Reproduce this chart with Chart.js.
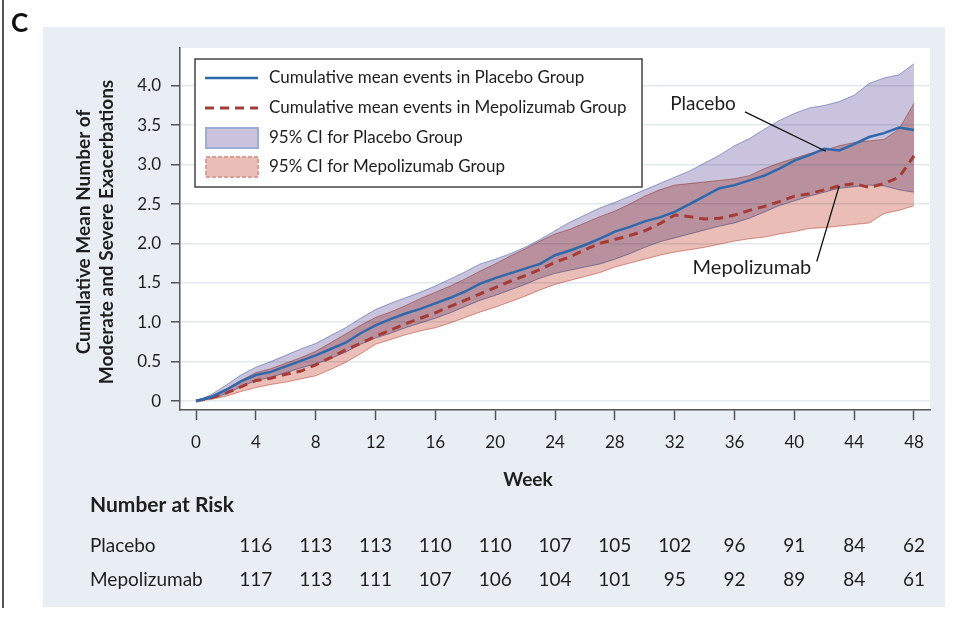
<!DOCTYPE html>
<html>
<head>
<meta charset="utf-8">
<script src="https://cdn.jsdelivr.net/npm/chart.js@4.4.1/dist/chart.umd.min.js"></script>
<style>
  html, body { margin: 0; padding: 0; background: #fff; }
  #wrap { width: 971px; height: 617px; }
</style>
</head>
<body>
<div id="wrap"><canvas id="chart" width="971" height="617"></canvas></div>
<script>
// Weeks since randomization
const weeks = [0, 1, 2, 3, 4, 5, 6, 7, 8, 9, 10, 11, 12, 13, 14, 15, 16, 17, 18, 19, 20, 21, 22, 23, 24,
  25, 26, 27, 28, 29, 30, 31, 32, 33, 34, 35, 36, 37, 38, 39, 40, 41, 42, 43, 44, 45, 46, 47, 48];

// Cumulative mean number of moderate/severe exacerbations
const placeboMean = [0, 0.05, 0.14, 0.25, 0.33, 0.37, 0.44, 0.51, 0.58, 0.66, 0.74, 0.86, 0.96, 1.04, 1.11, 1.17, 1.24,
  1.31, 1.39, 1.49, 1.56, 1.62, 1.68, 1.74, 1.85, 1.91, 1.98, 2.06, 2.15, 2.21, 2.28, 2.33, 2.40, 2.50, 2.60, 2.70,
  2.74, 2.80, 2.86, 2.95, 3.05, 3.12, 3.20, 3.18, 3.26, 3.35, 3.40, 3.47, 3.44];
const mepoMean = [0, 0.04, 0.10, 0.18, 0.26, 0.29, 0.34, 0.38, 0.46, 0.55, 0.65, 0.73, 0.82, 0.90, 0.98, 1.05, 1.12,
  1.20, 1.28, 1.36, 1.44, 1.52, 1.59, 1.67, 1.76, 1.83, 1.92, 2.00, 2.05, 2.10, 2.16, 2.25, 2.36, 2.34, 2.31, 2.32,
  2.36, 2.42, 2.47, 2.53, 2.60, 2.63, 2.68, 2.73, 2.76, 2.71, 2.76, 2.84, 3.11];

// 95% confidence bands
const placeboUpper = [0, 0.08, 0.20, 0.33, 0.43, 0.50, 0.58, 0.66, 0.73, 0.83, 0.93, 1.05, 1.16, 1.24, 1.31, 1.38, 1.46,
  1.55, 1.64, 1.74, 1.80, 1.87, 1.95, 2.05, 2.16, 2.27, 2.36, 2.45, 2.52, 2.60, 2.68, 2.76, 2.84, 2.92, 3.02, 3.12,
  3.24, 3.33, 3.45, 3.56, 3.65, 3.72, 3.75, 3.80, 3.88, 4.03, 4.10, 4.14, 4.28];
const placeboLower = [0, 0.03, 0.09, 0.18, 0.26, 0.30, 0.36, 0.42, 0.47, 0.54, 0.62, 0.72, 0.80, 0.86, 0.93, 0.99, 1.05,
  1.12, 1.20, 1.28, 1.34, 1.41, 1.48, 1.56, 1.62, 1.66, 1.70, 1.74, 1.80, 1.87, 1.95, 2.02, 2.07, 2.12, 2.17, 2.22,
  2.26, 2.32, 2.40, 2.48, 2.54, 2.60, 2.65, 2.70, 2.72, 2.74, 2.73, 2.68, 2.65];
const mepoUpper = [0, 0.06, 0.15, 0.26, 0.36, 0.41, 0.48, 0.55, 0.63, 0.74, 0.85, 0.96, 1.06, 1.13, 1.21, 1.30, 1.38,
  1.46, 1.55, 1.65, 1.74, 1.84, 1.93, 2.03, 2.12, 2.18, 2.26, 2.34, 2.41, 2.50, 2.60, 2.68, 2.74, 2.76, 2.78, 2.80,
  2.82, 2.86, 2.95, 3.02, 3.08, 3.14, 3.18, 3.24, 3.28, 3.30, 3.32, 3.45, 3.78];
const mepoLower = [0, 0.02, 0.06, 0.12, 0.17, 0.21, 0.24, 0.28, 0.32, 0.40, 0.49, 0.60, 0.72, 0.78, 0.84, 0.89, 0.93,
  0.99, 1.06, 1.13, 1.19, 1.26, 1.33, 1.41, 1.48, 1.53, 1.58, 1.63, 1.70, 1.75, 1.80, 1.85, 1.89, 1.92, 1.95, 1.99,
  2.03, 2.06, 2.08, 2.12, 2.15, 2.19, 2.20, 2.22, 2.24, 2.26, 2.38, 2.42, 2.48];

// Axis ticks
const xTicks = [0, 4, 8, 12, 16, 20, 24, 28, 32, 36, 40, 44, 48];
const yTicks = [0, 0.5, 1.0, 1.5, 2.0, 2.5, 3.0, 3.5, 4.0];

// Number at risk table
const riskWeeks = [4, 8, 12, 16, 20, 24, 28, 32, 36, 40, 44, 48];
const riskPlacebo = [116, 113, 113, 110, 110, 107, 105, 102, 96, 91, 84, 62];
const riskMepo = [117, 113, 111, 107, 106, 104, 101, 95, 92, 89, 84, 61];

const FONT = 'Lato, "Open Sans", sans-serif';
const TEXT = '#1e1e1e';
const BLUE = '#2e69ad';
const RED = '#a63a34';
const LAVENDER = '#cac3dd';
const PINK = '#eabdb6';
const BLUE_EDGE = '#9badd8';
const RED_EDGE = '#dc9d95';

const toPoints = vals => weeks.map((w, i) => ({ x: w, y: vals[i] }));

const decor = {
  id: 'decor',
  beforeDraw(chart) {
    const ctx = chart.ctx, a = chart.chartArea;
    ctx.save();
    ctx.fillStyle = '#fff';
    ctx.fillRect(0, 0, chart.width, chart.height);
    ctx.fillStyle = '#e8eef4';
    ctx.fillRect(43, 27, 902, 580);
    ctx.fillStyle = '#fff';
    ctx.fillRect(a.left, a.top, a.right - a.left, a.bottom - a.top);
    // rule at the left edge
    ctx.strokeStyle = '#555';
    ctx.lineWidth = 2;
    ctx.beginPath();
    ctx.moveTo(3, 0);
    ctx.lineTo(3, 608);
    ctx.stroke();
    ctx.fillStyle = '#111';
    ctx.font = 'bold 26px ' + FONT;
    ctx.textBaseline = 'alphabetic';
    ctx.fillText('C', 11, 32);
    ctx.restore();
  },
  // bands overlap like print: multiply blending, lines drawn normally on top
  beforeDatasetsDraw(chart) {
    chart.ctx.save();
    chart.ctx.globalCompositeOperation = 'multiply';
  },
  beforeDatasetDraw(chart, args) {
    if (args.index <= 1) chart.ctx.globalCompositeOperation = 'source-over';
  },
  afterDatasetsDraw(chart) {
    chart.ctx.restore();
  },
  afterDraw(chart) {
    const ctx = chart.ctx;
    const xs = chart.scales.x, ys = chart.scales.y;
    const px = v => xs.getPixelForValue(v);
    const py = v => ys.getPixelForValue(v);
    ctx.save();

    // legend box
    ctx.fillStyle = '#fff';
    ctx.fillRect(195, 59, 447, 128);
    ctx.strokeStyle = '#444';
    ctx.lineWidth = 1.5;
    ctx.strokeRect(195, 59, 447, 128);
    const rows = [78, 108, 138, 167];
    ctx.lineWidth = 2.5;
    ctx.strokeStyle = BLUE;
    ctx.beginPath(); ctx.moveTo(205, rows[0]); ctx.lineTo(258, rows[0]); ctx.stroke();
    ctx.lineWidth = 3;
    ctx.strokeStyle = RED;
    ctx.setLineDash([9, 6]);
    ctx.beginPath(); ctx.moveTo(205, rows[1]); ctx.lineTo(258, rows[1]); ctx.stroke();
    ctx.setLineDash([]);
    ctx.fillStyle = LAVENDER;
    ctx.fillRect(206, rows[2] - 10, 52, 20);
    ctx.strokeStyle = BLUE_EDGE; ctx.lineWidth = 2;
    ctx.strokeRect(206, rows[2] - 10, 52, 20);
    ctx.fillStyle = PINK;
    ctx.fillRect(206, rows[3] - 10, 52, 20);
    ctx.strokeStyle = RED_EDGE;
    ctx.setLineDash([4, 2]);
    ctx.strokeRect(206, rows[3] - 10, 52, 20);
    ctx.setLineDash([]);
    ctx.fillStyle = TEXT;
    ctx.font = '17px ' + FONT;
    ctx.textBaseline = 'middle';
    ctx.textAlign = 'left';
    const legendText = ['Cumulative mean events in Placebo Group', 'Cumulative mean events in Mepolizumab Group',
      '95% CI for Placebo Group', '95% CI for Mepolizumab Group'];
    legendText.forEach((t, i) => ctx.fillText(t, 269, rows[i]));

    // curve labels with leader lines
    ctx.font = '19px ' + FONT;
    ctx.fillText('Placebo', px(31.7), py(3.77));
    ctx.font = '20px ' + FONT;
    ctx.fillText('Mepolizumab', px(33.2), py(1.70));
    ctx.strokeStyle = '#111';
    ctx.lineWidth = 1.3;
    ctx.beginPath();
    ctx.moveTo(px(36.7), py(3.67)); ctx.lineTo(px(42.1), py(3.17));
    ctx.moveTo(px(41.5), py(1.77)); ctx.lineTo(px(43.0), py(2.73));
    ctx.stroke();

    // axis titles
    ctx.font = 'bold 19px ' + FONT;
    ctx.textAlign = 'center';
    ctx.save();
    ctx.translate(84, 232);
    ctx.rotate(-Math.PI / 2);
    ctx.fillText('Cumulative Mean Number of', 0, 0);
    ctx.fillText('Moderate and Severe Exacerbations', 0, 23);
    ctx.restore();
    ctx.font = 'bold 19px ' + FONT;
    ctx.fillText('Week', 528, 480);

    // number at risk
    ctx.textAlign = 'left';
    ctx.font = 'bold 21px ' + FONT;
    ctx.fillText('Number at Risk', 90, 505);
    ctx.font = '19px ' + FONT;
    ctx.fillText('Placebo', 90, 546);
    ctx.fillText('Mepolizumab', 90, 580);
    ctx.textAlign = 'center';
    riskWeeks.forEach((w, i) => {
      ctx.fillText(String(riskPlacebo[i]), px(w), 546);
      ctx.fillText(String(riskMepo[i]), px(w), 580);
    });
    ctx.restore();
  }
};

const band = { pointRadius: 0, borderWidth: 1 };

new Chart(document.getElementById('chart'), {
  type: 'line',
  data: {
    datasets: [
      { label: 'Cumulative mean events in Placebo Group', data: toPoints(placeboMean), borderColor: BLUE,
        borderWidth: 2.5, pointRadius: 0, fill: false, order: 0 },
      { label: 'Cumulative mean events in Mepolizumab Group', data: toPoints(mepoMean), borderColor: RED,
        borderWidth: 3, borderDash: [9, 6], pointRadius: 0, fill: false, order: 1 },
      { label: '95% CI for Placebo Group', data: toPoints(placeboUpper), borderColor: BLUE_EDGE,
        backgroundColor: LAVENDER, fill: '+1', order: 5, ...band },
      { label: 'Placebo lower', data: toPoints(placeboLower), borderColor: BLUE_EDGE, fill: false, order: 4, ...band },
      { label: '95% CI for Mepolizumab Group', data: toPoints(mepoUpper), borderColor: RED_EDGE,
        backgroundColor: PINK, fill: '+1', order: 3, ...band },
      { label: 'Mepolizumab lower', data: toPoints(mepoLower), borderColor: RED_EDGE, fill: false, order: 2, ...band }
    ]
  },
  options: {
    responsive: false,
    animation: false,
    layout: { padding: { left: 0, right: 41, top: 48, bottom: 147 } },
    plugins: {
      legend: { display: false },
      tooltip: { enabled: false }
    },
    scales: {
      x: {
        type: 'linear',
        min: -1.07,
        max: 49.07,
        afterBuildTicks: s => { s.ticks = xTicks.map(v => ({ value: v })); },
        afterFit: s => { s.height = 60; },
        grid: { drawOnChartArea: false, drawTicks: true, tickLength: 10, tickColor: '#555', tickWidth: 1.5 },
        border: { color: '#555', width: 1.5 },
        ticks: { font: { family: FONT, size: 17 }, color: TEXT, padding: 12, maxRotation: 0, autoSkip: false }
      },
      y: {
        type: 'linear',
        min: -0.114,
        max: 4.48,
        afterBuildTicks: s => { s.ticks = yTicks.map(v => ({ value: v })); },
        afterFit: s => { s.width = 180; },
        grid: { color: '#e3eaed', lineWidth: 1.5, tickColor: '#555', tickLength: 9, tickWidth: 1.5 },
        border: { color: '#555', width: 1.5 },
        ticks: { font: { family: FONT, size: 17 }, color: TEXT, padding: 10,
          callback: v => v === 0 ? '0' : v.toFixed(1) }
      }
    }
  },
  plugins: [decor]
});
</script>
</body>
</html>
